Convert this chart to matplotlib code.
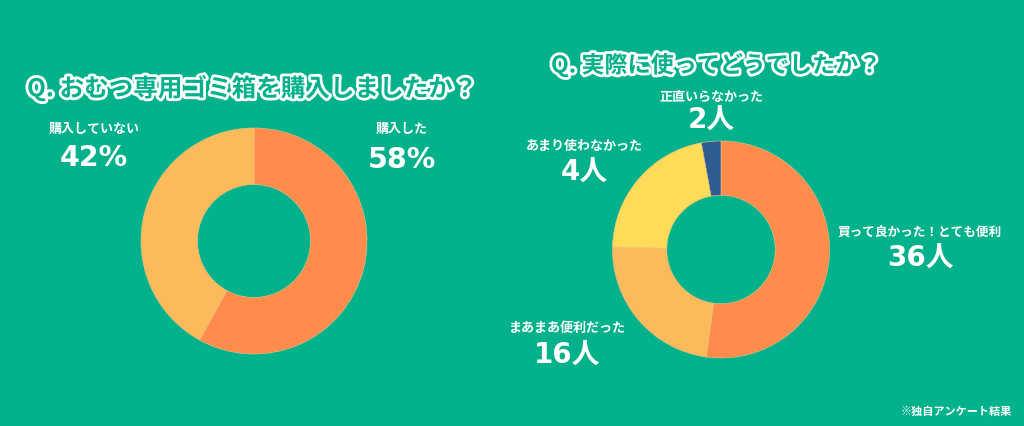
import matplotlib
matplotlib.use("Agg")
import matplotlib.pyplot as plt
import matplotlib.patheffects as pe

plt.rcParams['font.family'] = ['Noto Sans CJK JP', 'DejaVu Sans']

# ---- data ----
left_title = "Q. おむつ専用ゴミ箱を購入しましたか？"
left_categories = ["購入した", "購入していない"]
left_values = [58, 42]
left_value_labels = ["58%", "42%"]

right_title = "Q. 実際に使ってどうでしたか？"
right_categories = ["買って良かった！とても便利", "まあまあ便利だった", "あまり使わなかった", "正直いらなかった"]
right_values = [36, 16, 15, 2]          # wedge sizes as drawn in the picture
right_value_labels = ["36人", "16人", "4人", "2人"]
note = "※独自アンケート結果"

BG = "#03B18B"
left_colors = ["#FF8C4B", "#FDBA5A"]
right_colors = ["#FF8C4B", "#FDBA5A", "#FEDC58", "#2E5C93"]

W, H = 1024, 427
fig = plt.figure(figsize=(W / 100, H / 100), dpi=100)
fig.patch.set_facecolor(BG)


def pie_axes(cx, cy, r):
    return fig.add_axes([(cx - r) / W, (H - cy - r) / H, 2 * r / W, 2 * r / H])


ax1 = pie_axes(254, 242, 113)
ax1.pie(left_values, colors=left_colors, startangle=90, counterclock=False,
        radius=1, wedgeprops=dict(width=0.5, edgecolor="#F2C48A", linewidth=0.4))
ax1.set_xlim(-1, 1); ax1.set_ylim(-1, 1); ax1.set_aspect("equal"); ax1.axis("off")

ax2 = pie_axes(721, 250.5, 108.5)
ax2.pie(right_values, colors=right_colors, startangle=90, counterclock=False,
        radius=1, wedgeprops=dict(width=0.5, edgecolor="#F2C48A", linewidth=0.4))
ax2.set_xlim(-1, 1); ax2.set_ylim(-1, 1); ax2.set_aspect("equal"); ax2.axis("off")

# overlay axes in pixel coordinates for text
ov = fig.add_axes([0, 0, 1, 1])
ov.set_xlim(0, W); ov.set_ylim(H, 0); ov.axis("off")
ov.patch.set_alpha(0)

title_fx = [pe.withStroke(linewidth=4, foreground="white")]
ov.text(27, 89, left_title, color=BG, fontsize=17.7, fontweight="bold",
        ha="left", va="center", path_effects=title_fx)
ov.text(551, 66, right_title, color=BG, fontsize=16.6, fontweight="bold",
        ha="left", va="center", path_effects=title_fx)

NUM_FONT = ['DejaVu Sans', 'Noto Sans CJK JP']


def label(x, y1, cat, y2, val, csize=9.4, vsize=20.5):
    ov.text(x, y1, cat, color="white", fontsize=csize, fontweight="bold", ha="center", va="center")
    ov.text(x, y2, val, color="white", fontsize=vsize, fontweight="bold", ha="center", va="center",
            family=NUM_FONT)

label(402, 129, left_categories[0], 160, left_value_labels[0])
label(94, 129, left_categories[1], 158, left_value_labels[1])

label(920, 232, right_categories[0], 259, right_value_labels[0], csize=9.1, vsize=20)
label(567, 328, right_categories[1], 356, right_value_labels[1], vsize=20)
label(584, 146, right_categories[2], 173, right_value_labels[2], vsize=20)
label(711, 97, right_categories[3], 121, right_value_labels[3], vsize=20)

ov.text(1012, 411, note, color="white", fontsize=8, fontweight="bold", ha="right", va="center")

fig.savefig("out.png", dpi=100, facecolor=BG)
